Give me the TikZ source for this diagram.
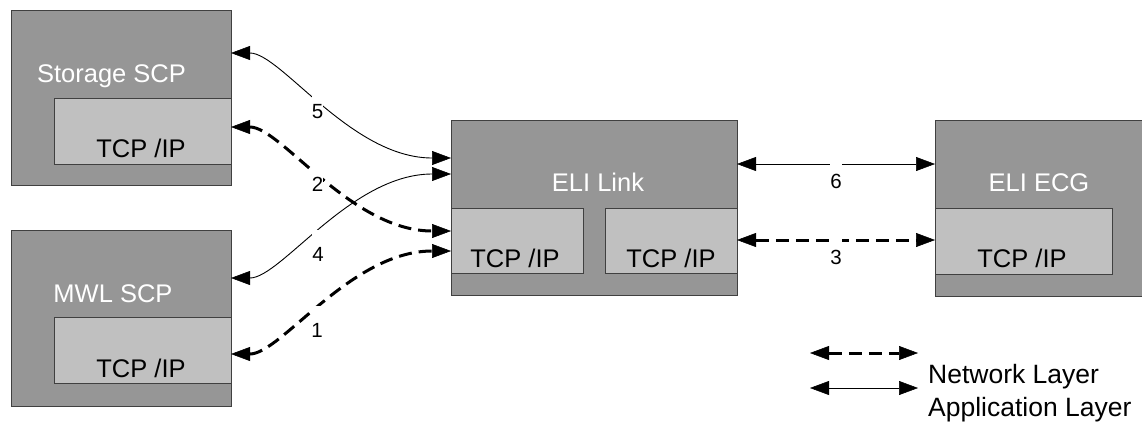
\documentclass[tikz,border=0pt]{standalone}
\usepackage{fontspec}
\setmainfont{Liberation Sans}
\usetikzlibrary{arrows.meta}
\definecolor{outerc}{HTML}{969696}
\definecolor{innerc}{HTML}{C0C0C0}
\definecolor{edgec}{HTML}{404040}
\begin{document}
\begin{tikzpicture}[x=1pt,y=-1pt,
  outerbox/.style={draw=edgec, fill=outerc, line width=0.9pt, anchor=north west, inner sep=0pt, outer sep=0pt},
  innerbox/.style={draw=edgec, fill=innerc, line width=0.9pt, anchor=north west, inner sep=0pt, outer sep=0pt},
  titletext/.style={font=\fontsize{25.5}{30}\selectfont, text=white, anchor=base, inner sep=0pt},
  prototext/.style={font=\fontsize{25.5}{30}\selectfont, text=black, anchor=base, inner sep=0pt},
  legendtext/.style={font=\fontsize{26.5}{30}\selectfont, text=black, anchor=base west, inner sep=0pt},
  numlabel/.style={font=\fontsize{20.5}{24}\selectfont, fill=white, anchor=base, inner sep=0pt, text height=31pt, text depth=0pt},
  tip/.tip={Triangle[length=19pt,width=14pt,line width=0.5pt]},
  app/.style={line width=0.9pt, tip-tip},
  net/.style={line width=3pt, dash pattern=on 13pt off 7pt, tip-tip},
]
\path[use as bounding box, clip] (0,0) rectangle (1142,421);

% boxes
\node[outerbox, minimum width=220pt, minimum height=175pt] (stor) at (11,10) {};
\node[innerbox, minimum width=177pt, minimum height=66pt] (storin) at (54,98) {};
\node[outerbox, minimum width=220pt, minimum height=176pt] (mwl) at (11,230) {};
\node[innerbox, minimum width=177pt, minimum height=66pt] (mwlin) at (54,317) {};
\node[outerbox, minimum width=286pt, minimum height=175pt] (link) at (451,120) {};
\node[innerbox, minimum width=132pt, minimum height=65pt] (linkinL) at (451,208) {};
\node[innerbox, minimum width=132pt, minimum height=65pt] (linkinR) at (605,208) {};
\node[outerbox, minimum width=212pt, minimum height=176pt] (ecg) at (935,120) {};
\node[innerbox, minimum width=177pt, minimum height=66pt] (ecgin) at (935,208) {};

% texts
\node[titletext] (tstor) at (111.5,82) {Storage SCP};
\node[prototext] (pstor) at (141,157) {TCP /IP};
\node[titletext] (tmwl) at (113,302) {MWL SCP};
\node[prototext] (pmwl) at (141,377) {TCP /IP};
\node[titletext] (tlink) at (598,191) {ELI Link};
\node[prototext] (plinkL) at (515,267) {TCP /IP};
\node[prototext] (plinkR) at (671,267) {TCP /IP};
\node[titletext] (tecg) at (1039,191) {ELI ECG};
\node[prototext] (pecg) at (1022,267) {TCP /IP};

% connectors
\draw[app] (stor.east |- 0,53) .. controls +(50,0) and +(-100,0) .. (link.west |- 0,158);
\draw[net] (storin.east |- 0,127) .. controls +(50,0) and +(-100,0) .. (linkinL.west |- 0,231);
\draw[app] (mwl.east |- 0,278) .. controls +(50,0) and +(-100,0) .. (link.west |- 0,174);
\draw[net] (mwlin.east |- 0,354) .. controls +(50,0) and +(-100,0) .. (linkinL.west |- 0,251);
\draw[app] (link.east |- 0,164) -- (ecg.west |- 0,164);
\draw[net] (linkinR.east |- 0,240) -- (ecgin.west |- 0,240);

% labels
\node[numlabel] (n5) at (317.5,118) {5};
\node[numlabel] (n2) at (317.5,191) {2};
\node[numlabel] (n4) at (318,261) {4};
\node[numlabel] (n1) at (317,337) {1};
\node[numlabel] (n6) at (836,188) {6};
\node[numlabel] (n3) at (836,264) {3};

% legend
\coordinate (nl1) at (810,353);
\coordinate (nl2) at (918,353);
\coordinate (al1) at (810,388);
\coordinate (al2) at (918,388);
\draw[net] (nl1) -- (nl2);
\draw[app] (al1) -- (al2);
\node[legendtext] (lnet) at (928,383) {Network Layer};
\node[legendtext] (lapp) at (928,416) {Application Layer};
\end{tikzpicture}
\end{document}
